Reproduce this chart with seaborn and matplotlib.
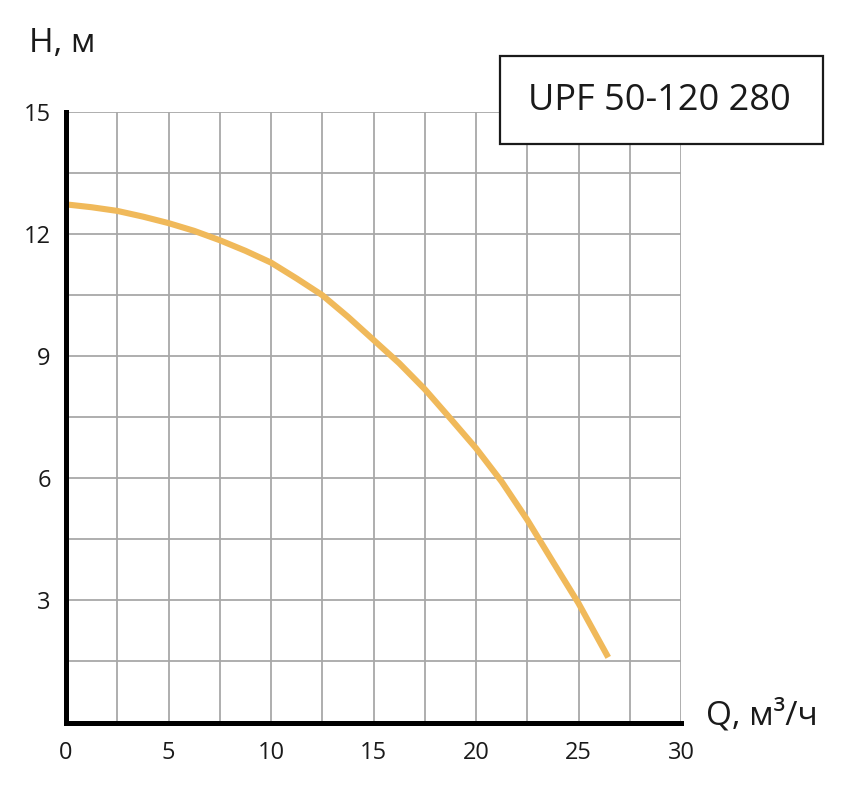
import matplotlib
matplotlib.use("Agg")
import matplotlib.pyplot as plt
from matplotlib.patches import Rectangle
import numpy as np
import pandas as pd
import seaborn as sns

# pump curve
q_vals = [0, 1.25, 2.5, 3.75, 5, 6.25, 7.5, 8.75, 10, 11.25, 12.5, 13.75,
          15, 16.25, 17.5, 18.75, 20, 21.25, 22.5, 23.75, 25, 26.45]
h_vals = [12.73, 12.66, 12.57, 12.43, 12.27, 12.08, 11.85, 11.59, 11.30, 10.91, 10.50, 9.97,
          9.40, 8.83, 8.19, 7.47, 6.74, 5.92, 4.98, 3.95, 2.93, 1.60]
x_ticks = [0, 5, 10, 15, 20, 25, 30]
y_ticks = [3, 6, 9, 12, 15]
model = "UPF 50-120 280"

curve = pd.DataFrame({"Q": q_vals, "H": h_vals})

sns.set_style("white")
plt.rcParams['font.family'] = ['Open Sans', 'DejaVu Sans']

fig = plt.figure(figsize=(8.41, 8.05), dpi=100)
ax = fig.add_axes([66/841, 1 - 722.5/805, 615/841, 610.5/805])

sns.lineplot(data=curve, x="Q", y="H", ax=ax, color="#F0B95A", linewidth=4.4,
             solid_capstyle="butt", solid_joinstyle="round", zorder=3)

ax.set_xlim(0, 30)
ax.set_ylim(0, 15)
ax.set_xticks(x_ticks)
ax.set_yticks(y_ticks)
ax.set_xticks(np.arange(0, 30.1, 2.5), minor=True)
ax.set_yticks(np.arange(0, 15.1, 1.5), minor=True)
ax.grid(True, which="both", color="#a8a8a8", linewidth=1.3)
ax.set_axisbelow(True)
ax.tick_params(which="both", length=0)
ax.tick_params(axis="x", labelsize=17, pad=13, colors="#1a1a1a")
ax.tick_params(axis="y", labelsize=17, pad=11, colors="#1a1a1a")
ax.set_xlabel("")
ax.set_ylabel("")

for s in ["top", "right"]:
    ax.spines[s].set_visible(False)
for s in ["left", "bottom"]:
    ax.spines[s].set_color("black")
    ax.spines[s].set_linewidth(3.6)
    ax.spines[s].set_zorder(4)

fig.text(29/841, 1 - 44/805, "H, м", fontsize=24, va="center", ha="left", color="#1a1a1a")
fig.text(706/841, 1 - 716/805, "Q, м³/ч", fontsize=24, va="center", ha="left", color="#1a1a1a")

box = Rectangle((500/841, 1 - 144/805), 323/841, 88/805, transform=fig.transFigure,
                facecolor="white", edgecolor="#1a1a1a", linewidth=1.6, zorder=5)
fig.add_artist(box)
fig.text(659/841, 1 - 101/805, model, fontsize=26, ha="center", va="center",
         color="#1a1a1a", zorder=6)

fig.savefig("out.png", dpi=100)
